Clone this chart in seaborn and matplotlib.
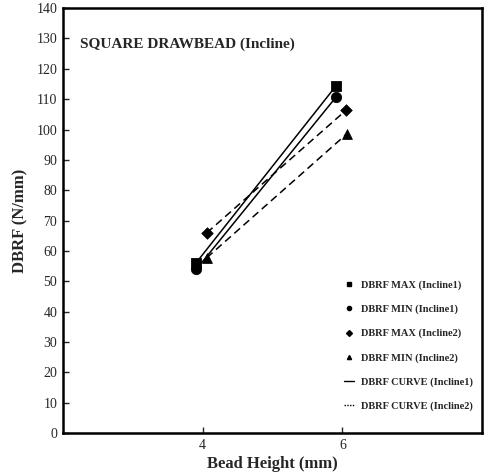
import pandas as pd
import matplotlib.pyplot as plt
import seaborn as sns

# data
max1_x = [3.91, 5.91]
max1_y = [56.2, 114.4]
min1_x = [3.91, 5.91]
min1_y = [54.0, 110.7]
max2_x = [4.06, 6.05]
max2_y = [66.0, 106.3]
min2_x = [4.06, 6.06]
min2_y = [57.8, 98.5]

x_ticks = [4, 6]
y_ticks = list(range(0, 150, 10))

sns.set_style("ticks")
plt.rcParams['font.family'] = ['Liberation Serif', 'DejaVu Serif']

fig = plt.figure(figsize=(4.84, 4.75), dpi=100)
ax = fig.add_axes([0.130, 0.088, 0.866, 0.895])

series = [
    ('DBRF MAX (Incline1)', max1_x, max1_y, 's', 'Incline1'),
    ('DBRF MIN (Incline1)', min1_x, min1_y, 'o', 'Incline1'),
    ('DBRF MAX (Incline2)', max2_x, max2_y, 'D', 'Incline2'),
    ('DBRF MIN (Incline2)', min2_x, min2_y, '^', 'Incline2'),
]

# curves first
for name, xs, ys, mk, grp in series:
    df = pd.DataFrame({'x': xs, 'y': ys})
    sns.lineplot(data=df, x='x', y='y', ax=ax, color='black', lw=1.1,
                 linestyle='-' if grp == 'Incline1' else (0, (5, 3)), legend=False)

# markers
sizes = {'s': 55, 'o': 55, 'D': 35, '^': 50}
point_handles = []
for name, xs, ys, mk, grp in series:
    df = pd.DataFrame({'x': xs, 'y': ys})
    sns.scatterplot(data=df, x='x', y='y', ax=ax, marker=mk, s=sizes[mk],
                    color='black', edgecolor='black', legend=False)
    point_handles.append(plt.Line2D([], [], marker=mk, color='black', ls='none', markersize=3))

line_handles = [plt.Line2D([], [], color='black', lw=1),
                plt.Line2D([], [], color='black', lw=1, ls=(0, (1, 1)))]
labels = [s[0] for s in series] + ['DBRF CURVE (Incline1)', 'DBRF CURVE (Incline2)']
leg = ax.legend(point_handles + line_handles, labels, loc='lower right',
                bbox_to_anchor=(1.0, 0.03), frameon=False,
                handlelength=1.0, handletextpad=0.6, labelspacing=1.4,
                prop={'weight': 'bold', 'size': 7.5})

ax.set_xlim(2, 8)
ax.set_ylim(0, 140)
ax.set_xticks(x_ticks)
ax.set_yticks(y_ticks)
ax.tick_params(direction='in', length=4, width=1, labelsize=10, pad=4)
for sp in ax.spines.values():
    sp.set_linewidth(1.8)
    sp.set_color('black')

ax.text(0.04, 0.915, 'SQUARE DRAWBEAD (Incline)', transform=ax.transAxes,
        fontsize=11, fontweight='bold', ha='left', va='center')
ax.set_xlabel('Bead Height (mm)', fontsize=12, fontweight='bold', labelpad=3)
ax.set_ylabel('DBRF (N/mm)', fontsize=12, fontweight='bold', labelpad=6)

fig.savefig('out.png', dpi=100)
